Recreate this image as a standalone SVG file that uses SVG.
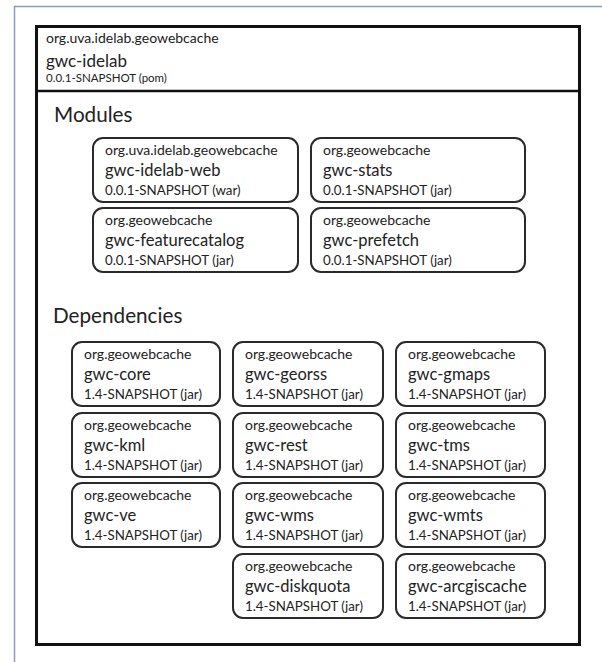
<svg xmlns="http://www.w3.org/2000/svg" width="602" height="662" viewBox="0 0 602 662">
<style>
.frame{fill:none;stroke:#8a9cb8;stroke-width:1.5}
.outer{fill:#fff;stroke:#111;stroke-width:3}
.box{fill:#fff;stroke:#2a2a2a;stroke-width:2}
text{font-family:Lato,"Open Sans","Liberation Sans",sans-serif;fill:#222}
.g{font-size:14px}
.n{font-size:16.5px}
.v{font-size:13.3px}
.hv{font-size:11.5px}
.hn{font-size:17px}
.h{font-size:20.7px}
</style>
<rect x="0" y="0" width="602" height="662" fill="#fff"/>
<path class="frame" d="M14.5,662 V6.5 H602"/>
<g id="root">
<rect class="outer" x="36.5" y="26.5" width="543" height="618"/>
<line x1="36.5" y1="91" x2="579.5" y2="91" stroke="#111" stroke-width="2.5"/>
<text class="g" x="46" y="43">org.uva.idelab.geowebcache</text>
<text class="hn" x="46" y="67">gwc-idelab</text>
<text class="hv" x="46" y="82">0.0.1-SNAPSHOT (pom)</text>
<text class="h" x="54" y="122">Modules</text>
<text class="h" x="53" y="323">Dependencies</text>
</g>
<g id="connectors"></g>
<g id="m-idelab-web"><rect class="box" x="93" y="138" width="205" height="64" rx="10"/><text class="g" x="105" y="155">org.uva.idelab.geowebcache</text><text class="n" x="105" y="176">gwc-idelab-web</text><text class="v" x="105" y="195">0.0.1-SNAPSHOT (war)</text></g>
<g id="m-stats"><rect class="box" x="311" y="138" width="214" height="64" rx="10"/><text class="g" x="323" y="155">org.geowebcache</text><text class="n" x="323" y="176">gwc-stats</text><text class="v" x="323" y="195">0.0.1-SNAPSHOT (jar)</text></g>
<g id="m-featurecatalog"><rect class="box" x="93" y="208" width="205" height="64" rx="10"/><text class="g" x="105" y="225">org.geowebcache</text><text class="n" x="105" y="246">gwc-featurecatalog</text><text class="v" x="105" y="265">0.0.1-SNAPSHOT (jar)</text></g>
<g id="m-prefetch"><rect class="box" x="311" y="208" width="214" height="64" rx="10"/><text class="g" x="323" y="225">org.geowebcache</text><text class="n" x="323" y="246">gwc-prefetch</text><text class="v" x="323" y="265">0.0.1-SNAPSHOT (jar)</text></g>

<g id="d-core"><rect class="box" x="72" y="342" width="148" height="64" rx="10"/><text class="g" x="84" y="359">org.geowebcache</text><text class="n" x="84" y="380">gwc-core</text><text class="v" x="84" y="399">1.4-SNAPSHOT (jar)</text></g>
<g id="d-georss"><rect class="box" x="233" y="342" width="150" height="64" rx="10"/><text class="g" x="245" y="359">org.geowebcache</text><text class="n" x="245" y="380">gwc-georss</text><text class="v" x="245" y="399">1.4-SNAPSHOT (jar)</text></g>
<g id="d-gmaps"><rect class="box" x="396" y="342" width="149" height="64" rx="10"/><text class="g" x="408" y="359">org.geowebcache</text><text class="n" x="408" y="380">gwc-gmaps</text><text class="v" x="408" y="399">1.4-SNAPSHOT (jar)</text></g>

<g id="d-kml"><rect class="box" x="72" y="413" width="148" height="64" rx="10"/><text class="g" x="84" y="430">org.geowebcache</text><text class="n" x="84" y="451">gwc-kml</text><text class="v" x="84" y="470">1.4-SNAPSHOT (jar)</text></g>
<g id="d-rest"><rect class="box" x="233" y="413" width="150" height="64" rx="10"/><text class="g" x="245" y="430">org.geowebcache</text><text class="n" x="245" y="451">gwc-rest</text><text class="v" x="245" y="470">1.4-SNAPSHOT (jar)</text></g>
<g id="d-tms"><rect class="box" x="396" y="413" width="149" height="64" rx="10"/><text class="g" x="408" y="430">org.geowebcache</text><text class="n" x="408" y="451">gwc-tms</text><text class="v" x="408" y="470">1.4-SNAPSHOT (jar)</text></g>

<g id="d-ve"><rect class="box" x="72" y="483" width="148" height="64" rx="10"/><text class="g" x="84" y="500">org.geowebcache</text><text class="n" x="84" y="521">gwc-ve</text><text class="v" x="84" y="540">1.4-SNAPSHOT (jar)</text></g>
<g id="d-wms"><rect class="box" x="233" y="483" width="150" height="64" rx="10"/><text class="g" x="245" y="500">org.geowebcache</text><text class="n" x="245" y="521">gwc-wms</text><text class="v" x="245" y="540">1.4-SNAPSHOT (jar)</text></g>
<g id="d-wmts"><rect class="box" x="396" y="483" width="149" height="64" rx="10"/><text class="g" x="408" y="500">org.geowebcache</text><text class="n" x="408" y="521">gwc-wmts</text><text class="v" x="408" y="540">1.4-SNAPSHOT (jar)</text></g>

<g id="d-diskquota"><rect class="box" x="233" y="554" width="150" height="64" rx="10"/><text class="g" x="245" y="571">org.geowebcache</text><text class="n" x="245" y="592">gwc-diskquota</text><text class="v" x="245" y="611">1.4-SNAPSHOT (jar)</text></g>
<g id="d-arcgiscache"><rect class="box" x="396" y="554" width="149" height="64" rx="10"/><text class="g" x="408" y="571">org.geowebcache</text><text class="n" x="408" y="592">gwc-arcgiscache</text><text class="v" x="408" y="611">1.4-SNAPSHOT (jar)</text></g>
</svg>
